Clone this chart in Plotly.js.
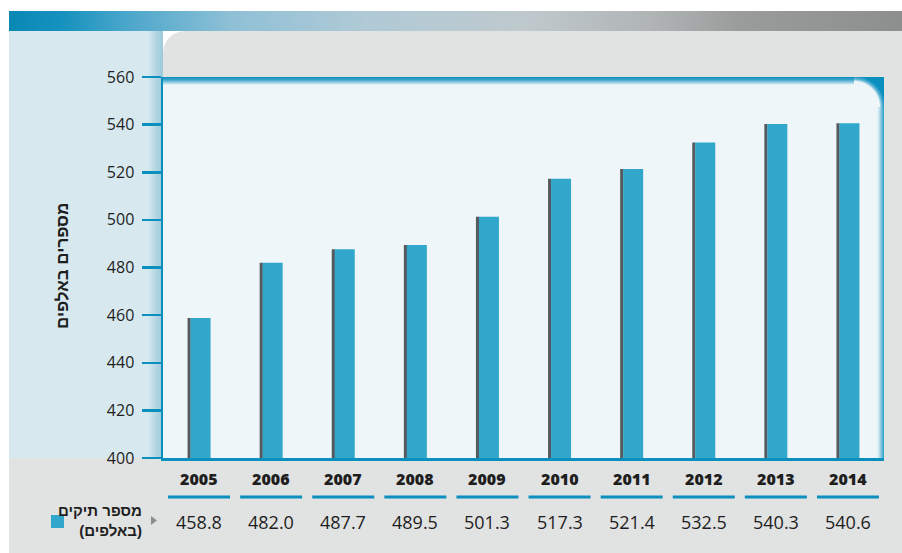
<!DOCTYPE html>
<html><head><meta charset="utf-8">
<script src="https://cdn.plot.ly/plotly-3.0.1.min.js"></script>
<style>html,body{margin:0;padding:0;background:#fff;}#chart{width:902px;height:553px;}</style>
</head><body><div id="chart"></div>
<script>
// ---- data ----
const years = ['2005','2006','2007','2008','2009','2010','2011','2012','2013','2014'];
const cases = [458.8, 482.0, 487.7, 489.5, 501.3, 517.3, 521.4, 532.5, 540.3, 540.6];
const valueLabels = ['458.8','482.0','487.7','489.5','501.3','517.3','521.4','532.5','540.3','540.6'];
const yTicks = [400, 420, 440, 460, 480, 500, 520, 540, 560];
const yTitle = 'מספרים באלפים';
const seriesName = 'מספר תיקים<br>(באלפים)';

// ---- geometry (page px) ----
const W = 902, H = 553;
const PL = 163, PR = 884, PT = 77, PB = 458;
const px = v => v / W, py = v => 1 - v / H;

const BLUE = '#0b8fbe', BAR = '#31a8cb', SHADOW = '#555a5e', GRAY = '#e1e2e2';

// background artwork as an SVG image
const svg = `<svg xmlns="http://www.w3.org/2000/svg" width="${W}" height="${H}" viewBox="0 0 ${W} ${H}">
<defs>
<linearGradient id="ban" x1="0" x2="1" y1="0" y2="0">
<stop offset="0" stop-color="#0a88b4"/><stop offset="0.06" stop-color="#1592bd"/>
<stop offset="0.13" stop-color="#4aa6cb"/><stop offset="0.25" stop-color="#8fc0d6"/>
<stop offset="0.4" stop-color="#b0cad6"/><stop offset="0.58" stop-color="#bfc9cd"/>
<stop offset="0.72" stop-color="#b0b4b5"/><stop offset="0.82" stop-color="#9a9b9b"/>
<stop offset="1" stop-color="#8d8e8e"/></linearGradient>
<linearGradient id="lstrip" x1="0" x2="1" y1="0" y2="0">
<stop offset="0" stop-color="#d7e9ef"/><stop offset="0.5" stop-color="#b5d6e2"/><stop offset="1" stop-color="#9dc9da"/></linearGradient>
<linearGradient id="topb" x1="0" x2="0" y1="0" y2="1">
<stop offset="0" stop-color="#0b8fbe"/><stop offset="0.35" stop-color="#3aa4cb"/><stop offset="1" stop-color="#eef6f9"/></linearGradient>
<linearGradient id="rtb" x1="0" x2="1" y1="0" y2="0">
<stop offset="0" stop-color="#eef6f9" stop-opacity="0"/><stop offset="0.6" stop-color="#8cc9df"/><stop offset="1" stop-color="#2fa0c9"/></linearGradient>
<radialGradient id="corner" cx="${PR-30}" cy="${PT+30}" r="31" gradientUnits="userSpaceOnUse">
<stop offset="0.82" stop-color="#eef6f9"/><stop offset="0.9" stop-color="#5fb5d6"/><stop offset="1" stop-color="#0a8fbe"/></radialGradient>
</defs>
<rect x="0" y="0" width="${W}" height="${H}" fill="#ffffff"/>
<rect x="9" y="11" width="${W-9}" height="20" fill="url(#ban)"/>
<rect x="9" y="31" width="${PL-9}" height="${PB-31}" fill="#d7e9ef"/>
<rect x="148" y="31" width="${PL-148}" height="${PB-31}" fill="url(#lstrip)"/>
<path d="M ${PL} ${PT} L ${PL} 53 A 22 22 0 0 1 ${PL+22} 31 L ${W} 31 L ${W} ${PT} Z" fill="${GRAY}"/>
<rect x="${PR}" y="${PT}" width="${W-PR}" height="${PB-PT}" fill="${GRAY}"/>
<rect x="9" y="${PB}" width="${W-9}" height="${H-PB}" fill="${GRAY}"/>
<rect x="${PL}" y="${PT}" width="${PR-PL}" height="${PB-PT}" fill="#eef6f9"/>
<rect x="${PL}" y="${PT}" width="${PR-PL-30}" height="8" fill="url(#topb)"/>
<rect x="${PR-8}" y="${PT+30}" width="8" height="${PB-PT-30}" fill="url(#rtb)"/>
<rect x="${PR-30}" y="${PT}" width="30" height="30" fill="url(#corner)"/>
</svg>`;
const bgSrc = 'data:image/svg+xml;charset=utf-8,' + encodeURIComponent(svg);

const catW = (PR - PL) / years.length; // px per category
const bodyW = 20 / catW, shW = 3.2 / catW;
const bodyOff = -8.5 / catW, shOff = -11.5 / catW;

const traces = [
  {type:'bar', x: years, y: cases, width: shW, offset: shOff,
   marker:{color: SHADOW, line:{width:0}}, hoverinfo:'skip', showlegend:false},
  {type:'bar', x: years, y: cases, width: bodyW, offset: bodyOff,
   marker:{color: BAR, line:{width:0}}, hoverinfo:'skip', showlegend:false}
];

const shapes = [];
const annotations = [];
years.forEach((yr, i) => {
  shapes.push({type:'line', xref:'x', yref:'paper', x0: i - 0.43, x1: i + 0.43,
    y0: py(497), y1: py(497), line:{color: BLUE, width: 3}});
  annotations.push({xref:'x', yref:'paper', x: i, y: py(479), text: yr, showarrow:false,
    xanchor:'center', yanchor:'middle', font:{family:'Open Sans, sans-serif', size:16, color:'#1e1e1e', weight:800}});
  annotations.push({xref:'x', yref:'paper', x: i, y: py(522), text: valueLabels[i], showarrow:false,
    xanchor:'center', yanchor:'middle', font:{family:'Open Sans, sans-serif', size:18, color:'#1e1e1e'}});
});
// legend marker & arrow
shapes.push({type:'rect', xref:'paper', yref:'paper', x0: px(51), x1: px(64), y0: py(528), y1: py(515),
  fillcolor: BAR, line:{width:0}});
shapes.push({type:'path', xref:'paper', yref:'paper',
  path: `M ${px(151)} ${py(516)} L ${px(157)} ${py(520.5)} L ${px(151)} ${py(525)} Z`,
  fillcolor:'#8a8c8d', line:{width:0}});
annotations.push({xref:'paper', yref:'paper', x: px(144), y: py(520), text: seriesName, showarrow:false,
  xanchor:'right', yanchor:'middle', align:'right',
  font:{family:'Liberation Sans, Arial, sans-serif', size:15, color:'#1e1e1e', weight:700}});
annotations.push({xref:'paper', yref:'paper', x: px(62), y: py(266), text: yTitle, showarrow:false,
  textangle:-90, xanchor:'center', yanchor:'middle',
  font:{family:'Liberation Sans, Arial, sans-serif', size:17, color:'#1e1e1e', weight:700}});

const layout = {
  width: W, height: H,
  margin:{l:0, r:0, t:0, b:0},
  paper_bgcolor:'rgba(0,0,0,0)', plot_bgcolor:'rgba(0,0,0,0)',
  barmode:'overlay', showlegend:false,
  xaxis:{domain:[px(PL), px(PR)], type:'category', range:[-0.5, years.length - 0.5],
    showticklabels:false, ticks:'', showgrid:false, zeroline:false,
    showline:true, linecolor: BLUE, linewidth: 2.5, fixedrange:true},
  yaxis:{domain:[py(PB), py(PT)], range:[400, 560], tickvals: yTicks, ticktext: yTicks.map(String),
    ticks:'outside', ticklen: 19, tickwidth: 2.5, tickcolor: BLUE, ticklabelstandoff: 4,
    showgrid:false, zeroline:false, showline:true, linecolor: BLUE, linewidth: 2.5,
    tickfont:{family:'Open Sans, sans-serif', size:16, color:'#1e1e1e'}, fixedrange:true},
  images:[{source: bgSrc, xref:'paper', yref:'paper', x:0, y:1, sizex:1, sizey:1,
    xanchor:'left', yanchor:'top', sizing:'stretch', layer:'below'}],
  shapes, annotations
};
Plotly.newPlot('chart', traces, layout, {displayModeBar:false, staticPlot:true});
</script></body></html>
